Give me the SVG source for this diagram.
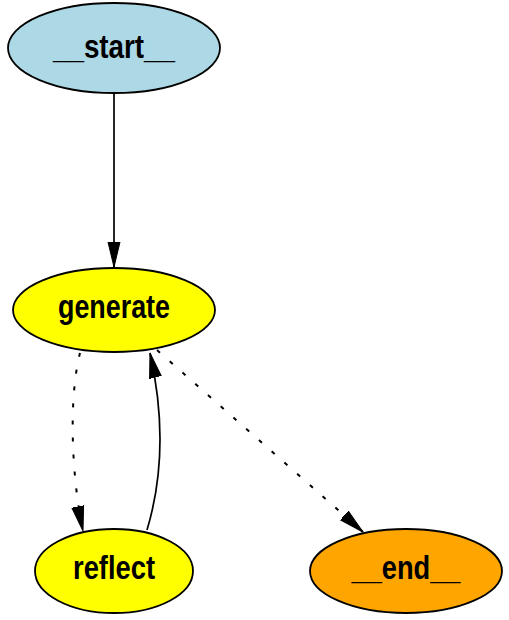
<svg xmlns="http://www.w3.org/2000/svg" width="509" height="620" viewBox="0 0 509 620">
<style>
.node ellipse{stroke:#000;stroke-width:1.8}
.node text{font-family:"Liberation Sans Narrow","Liberation Sans",Arial,sans-serif;font-weight:bold;font-size:33px;text-anchor:middle;fill:#000}
.edge{fill:none;stroke:#000;stroke-width:1.7}
.dot{stroke-dasharray:4,13;stroke-width:2}
</style>
<defs>
<marker id="ah" markerUnits="userSpaceOnUse" markerWidth="26" markerHeight="14" refX="25" refY="7" orient="auto" viewBox="0 0 26 14">
<path d="M0,1 L25,7 L0,13 z" fill="#000" stroke="#000" stroke-width="1" stroke-dasharray="none"/>
</marker>
</defs>
<rect width="509" height="620" fill="#fff"/>
<g id="connectors">
<path class="edge" d="M114,93 L114,267" marker-end="url(#ah)"/>
<path class="edge dot" d="M80,353 C68,400 72,480 83,531" marker-end="url(#ah)"/>
<path class="edge" d="M147,530 C162,480 165,420 150,353" marker-end="url(#ah)"/>
<path class="edge dot" d="M157,350 L363,532" marker-end="url(#ah)"/>
</g>
<g id="start" class="node">
<ellipse cx="114" cy="48" rx="106" ry="45" fill="#ADD8E6"/>
<text x="114" y="58" textLength="122" lengthAdjust="spacingAndGlyphs">__start__</text>
</g>
<g id="generate" class="node">
<ellipse cx="114" cy="310" rx="101" ry="42" fill="#FFFF00"/>
<text x="114" y="318" textLength="112" lengthAdjust="spacingAndGlyphs">generate</text>
</g>
<g id="reflect" class="node">
<ellipse cx="114" cy="571" rx="79" ry="42" fill="#FFFF00"/>
<text x="114" y="579" textLength="82" lengthAdjust="spacingAndGlyphs">reflect</text>
</g>
<g id="end" class="node">
<ellipse cx="406" cy="571" rx="96" ry="42" fill="#FFA500"/>
<text x="406" y="579" textLength="109" lengthAdjust="spacingAndGlyphs">__end__</text>
</g>
</svg>
